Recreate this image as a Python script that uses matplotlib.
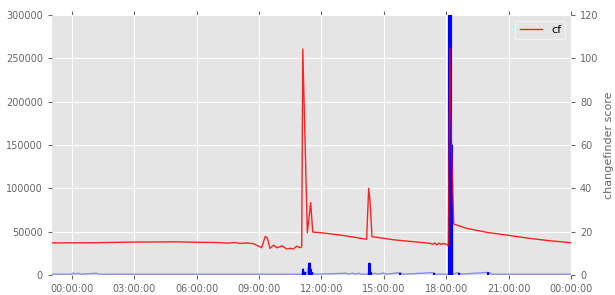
import matplotlib
matplotlib.use("Agg")
import matplotlib.pyplot as plt

# time in hours from midnight
blue_t = [-0.96, 0, 0.05, 0.15, 0.3, 0.4, 1.2, 1.3, 11.05, 11.13, 11.15, 11.2, 11.3, 11.41,
          11.43, 11.45, 11.48, 11.5, 11.56, 11.65, 13.2, 13.3, 13.5, 13.6, 13.8, 13.9, 14.25,
          14.3, 14.31, 14.32, 14.37, 14.42, 14.6, 14.7, 15.0, 15.1, 15.8, 15.9, 17.4, 17.5,
          18.13, 18.15, 18.16, 18.17, 18.18, 18.19, 18.2, 18.21, 18.22, 18.23, 18.24, 18.25,
          18.26, 18.27, 18.28, 18.29, 18.3, 18.31, 18.6, 18.7, 20.0, 20.05, 20.1, 20.2, 24]
blue_v = [900, 900, 2500, 900, 2200, 900, 2000, 900, 900, 7500, 900, 3800, 900, 14000,
          900, 14000, 7500, 900, 3000, 900, 2000, 900, 2200, 900, 2000, 900, 900,
          14000, 900, 14000, 3000, 900, 2000, 900, 2200, 900, 2800, 900, 2800, 900,
          900, 330000, 900, 330000, 900, 330000, 900, 330000, 900, 330000, 900, 150000,
          900, 150000, 900, 150000, 900, 900, 2800, 900, 3000, 900, 2500, 900, 900]

cf_t = [-0.96, 1, 3, 5, 6, 7, 7.5, 7.8, 8.1, 8.4, 8.7, 9.0, 9.12, 9.3, 9.4, 9.52, 9.7,
        9.85, 10.0, 10.09, 10.33, 10.5, 10.65, 10.8, 10.97, 11.05, 11.1, 11.32, 11.48,
        11.58, 12, 13, 14.17, 14.27, 14.33, 14.43, 14.81, 15.5, 16.5, 17.22, 17.35, 17.45,
        17.55, 17.65, 17.75, 17.85, 18.0, 18.1, 18.18, 18.25, 18.36, 19, 20, 21, 22, 23, 24]
cf_v = [14.8, 14.9, 15.2, 15.3, 15.1, 15.0, 14.7, 15.0, 14.6, 14.8, 14.5, 13.2, 12.6, 17.8,
        17.0, 12.3, 13.8, 12.6, 13.0, 13.5, 12.0, 12.3, 12.0, 13.3, 12.6, 13.0, 104.3, 19.5,
        33.4, 19.8, 19.5, 18.3, 16.5, 40.0, 34.6, 17.7, 17.2, 16.2, 15.3, 14.6, 14.2, 14.8,
        13.9, 14.7, 14.1, 14.6, 14.2, 13.5, 104.8, 60.0, 23.5, 21.5, 19.6, 18.3, 16.9, 15.8, 14.9]

tick_hours = [0, 3, 6, 9, 12, 15, 18, 21, 24]
tick_labels = ['00:00:00', '03:00:00', '06:00:00', '09:00:00', '12:00:00',
               '15:00:00', '18:00:00', '21:00:00', '00:00:00']

plt.style.use('ggplot')
plt.rcParams['xtick.color'] = '#666666'
plt.rcParams['ytick.color'] = '#666666'

fig = plt.figure(figsize=(6.15, 2.95), dpi=100)
ax = fig.add_axes([52 / 615, 20 / 295, 519 / 615, 260 / 295])
ax.plot(blue_t, blue_v, color='blue', lw=1, alpha=0.4)
# the taller spikes show up as solid blue in the original
spikes = [(t, v) for t, v in zip(blue_t, blue_v) if v > 2500]
ax.vlines([s[0] for s in spikes], 0, [s[1] for s in spikes], colors='blue', lw=1.5)
ax.set_xlim(-0.96, 24)
ax.set_ylim(0, 300000)
ax.set_xticks(tick_hours)
ax.set_xticklabels(tick_labels)
ax.tick_params(labelsize=7, top=True, direction='out', length=3)
ax.set_facecolor('#e5e5e5')
ax.grid(color='white', lw=0.8)
for s in ax.spines.values():
    s.set_visible(False)

ax2 = ax.twinx()
ax2.plot(cf_t, cf_v, color='red', lw=1, alpha=0.85, label='cf')
ax2.set_ylim(0, 120)
ax2.set_yticks([0, 20, 40, 60, 80, 100, 120])
ax2.tick_params(labelsize=7, direction='out', length=3)
ax2.grid(False)
ax2.set_ylabel('changefinder score', fontsize=8, color='#666666')
for s in ax2.spines.values():
    s.set_visible(False)
leg = ax2.legend(loc='upper right', fontsize=8, facecolor='#e5e5e5', edgecolor='white')

fig.savefig('out.png', dpi=100)
